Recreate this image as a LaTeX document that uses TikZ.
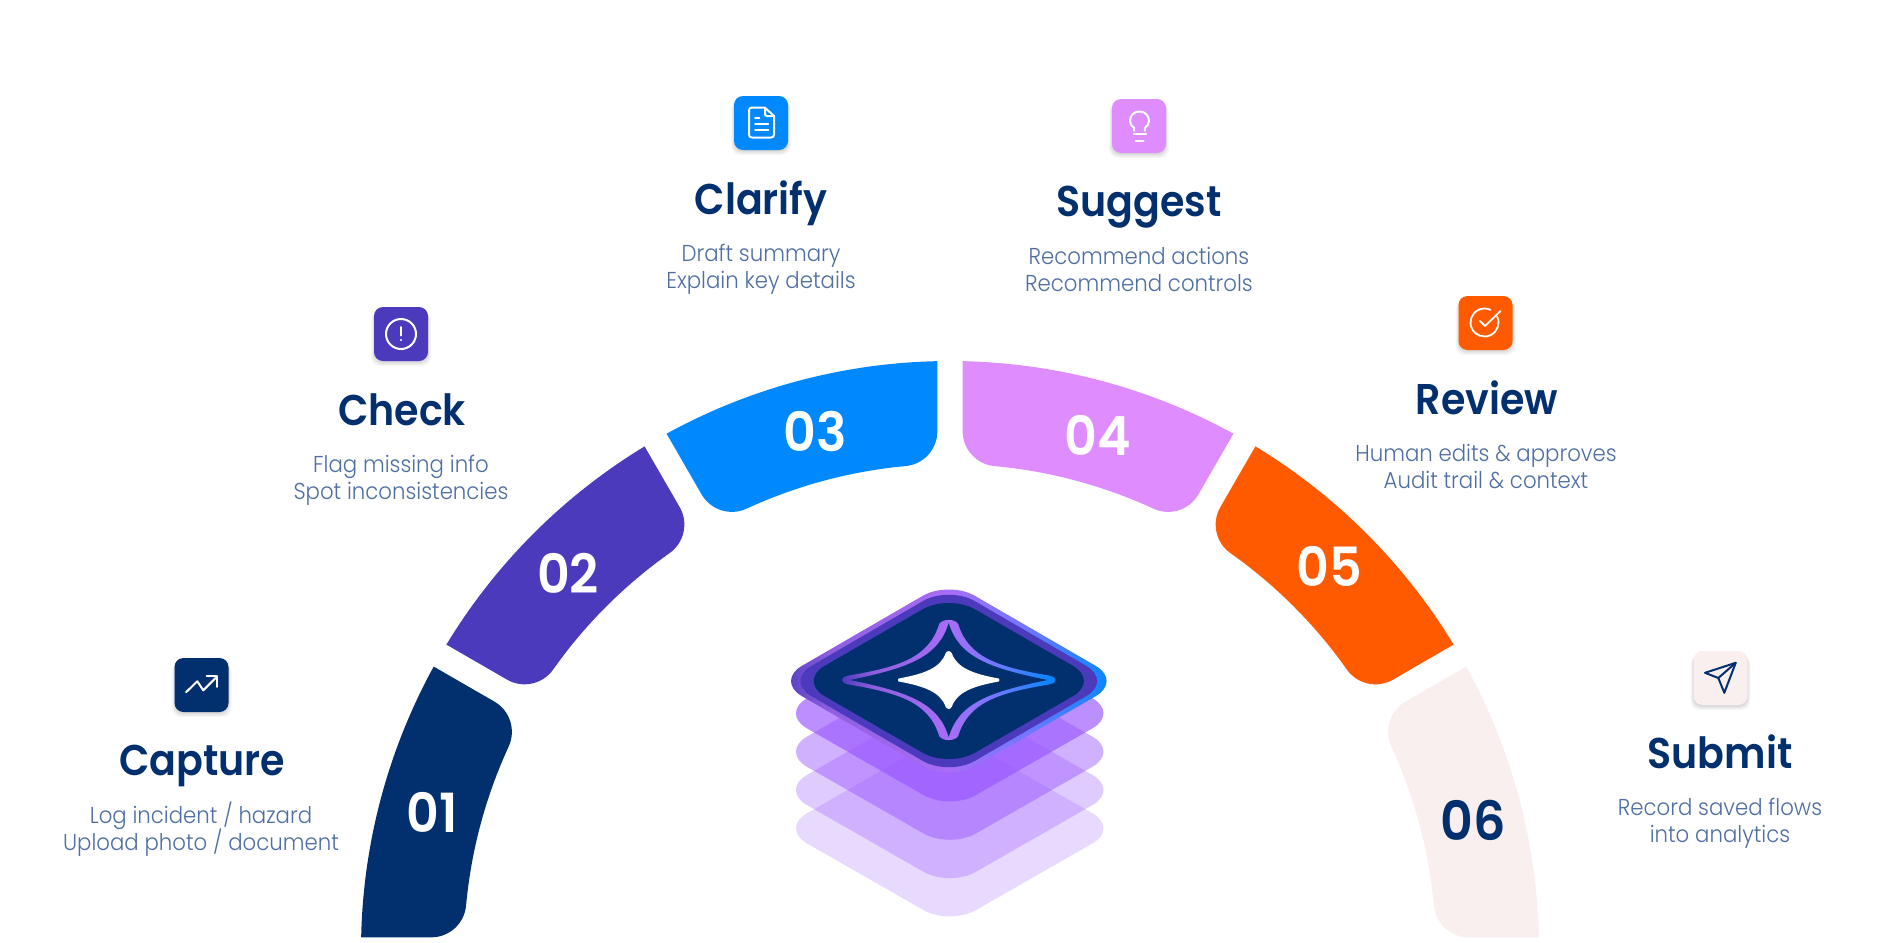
\documentclass[tikz,border=0pt]{standalone}
\usepackage{fontspec}
\setmainfont{Poppins}
\newfontfamily\titlef{Poppins SemiBold}[FakeStretch=0.92]
\newfontfamily\numf{Poppins SemiBold}[FakeStretch=0.94]
\newfontfamily\bodyf{Poppins Light}[FakeStretch=0.925]
\definecolor{navy}{HTML}{02306F}
\definecolor{indigo}{HTML}{4B3ABB}
\definecolor{azure}{HTML}{0088FF}
\definecolor{orchid}{HTML}{DF8CFF}
\definecolor{blaze}{HTML}{FF5A00}
\definecolor{blush}{HTML}{FAEFEF}
\definecolor{bodyblue}{HTML}{4F6EA3}
\definecolor{layerv}{HTML}{9955FF}
\definecolor{ringa}{HTML}{8F5FE0}
\definecolor{ringb}{HTML}{A96DF5}
\definecolor{ringc}{HTML}{7078FF}
\pgfdeclarehorizontalshading{ringshade}{100bp}{color(0bp)=(indigo);color(25bp)=(indigo);color(33bp)=(ringa);color(50bp)=(ringb);color(61bp)=(ringc);color(74bp)=(azure);color(100bp)=(azure)}
\tikzset{
  steptitle/.style={anchor=base,text=navy,font=\titlef\fontsize{43}{43}\selectfont},
  stepbody/.style={anchor=base,text=bodyblue,font=\bodyf\fontsize{23}{23}\selectfont},
  stepnum/.style={text=white,font=\numf\fontsize{54}{54}\selectfont},
  glyph/.style={draw=white,line width=2pt,line cap=round,line join=round},
}
\newcommand{\ringseg}[3]{%
  \pgfmathsetmacro{\sa}{#1+1.236}\pgfmathsetmacro{\ea}{#2-1.236}%
  \pgfmathsetmacro{\pa}{#2-1.40}\pgfmathsetmacro{\fa}{#2+90}\pgfmathsetmacro{\fb}{#2+180-5.25}%
  \pgfmathsetmacro{\ia}{#2-5.25}\pgfmathsetmacro{\ib}{#1+5.25}%
  \pgfmathsetmacro{\ga}{#1+5.25+180}\pgfmathsetmacro{\gb}{#1+270}%
  \fill[#3,shift={(950,-950)}] (\sa:589pt) arc[start angle=\sa,end angle=\ea,radius=589pt]
    -- (\pa:518.96pt) arc[start angle=\fa,end angle=\fb,radius=35pt]
    arc[start angle=\ia,end angle=\ib,radius=486pt]
    arc[start angle=\ga,end angle=\gb,radius=35pt] -- cycle;
}
\newcommand{\rhomb}[5]{% options, x, y, W, H
  \path[#1,shift={(#2,-#3)},rounded corners=30pt] (-#4,0) -- (0,-#5) -- (#4,0) -- (0,#5) -- cycle;
}
\newcommand{\iconcard}[3]{% x y colour
  \foreach \o/\g in {1/0,2/1,3/1,4/2,5/3}{
    \fill[black,opacity=.03,rounded corners=9pt] (#1-27-\g,-#2+27-\o) rectangle (#1+27+\g,-#2-27-\o);
  }
  \fill[#3,rounded corners=9pt] (#1-27,-#2+27) rectangle (#1+27,-#2-27);
}
\begin{document}
\begin{tikzpicture}[x=1pt,y=1pt]
\useasboundingbox (0,0) rectangle (1900,-942);
\fill[white] (0,0) rectangle (1900,-942);
% ring
\ringseg{150}{180}{navy}
\ringseg{120}{150}{indigo}
\ringseg{90}{120}{azure}
\ringseg{60}{90}{orchid}
\ringseg{30}{60}{blaze}
\ringseg{0}{30}{blush}
\node[stepnum] (n1) at (432,-812) {01};
\node[stepnum] (n2) at (568,-573) {02};
\node[stepnum] (n3) at (815,-431) {03};
\node[stepnum] (n4) at (1097.5,-435) {04};
\node[stepnum] (n5) at (1329.5,-566) {05};
\node[stepnum,text=navy] (n6) at (1473,-820) {06};
% stack
\rhomb{fill=layerv,fill opacity=.22}{949.7}{828.3}{169}{96.8}
\rhomb{fill=layerv,fill opacity=.30}{949.7}{790}{169}{96.8}
\rhomb{fill=layerv,fill opacity=.46}{949.7}{751.7}{169}{96.8}
\rhomb{fill=layerv,fill opacity=.66}{949.7}{713.3}{169}{96.8}
\rhomb{shading=ringshade}{948.8}{681}{173}{100.3}
\rhomb{fill=indigo}{948.8}{681}{163.5}{95}
\rhomb{fill=navy}{948.8}{681}{150.3}{86.8}
% star
\begin{scope}[shift={(948.7,-680)},y=-1pt]
\shade[shading=ringshade] (-9.5,-56) .. controls (-6,-61.5) and (6,-61.5) .. (9.5,-56)
  .. controls (20,-22) and (50,-13) .. (100,-4.5) .. controls (109,-3) and (109,3) .. (100,4.5)
  .. controls (50,13) and (20,22) .. (9.5,56) .. controls (6,61.5) and (-6,61.5) .. (-9.5,56)
  .. controls (-20,22) and (-50,13) .. (-100,4.5) .. controls (-109,3) and (-109,-3) .. (-100,-4.5)
  .. controls (-50,-13) and (-20,-22) .. (-9.5,-56) -- cycle;
\fill[navy] (0,-57) .. controls (10,-23) and (40,-12) .. (98.7,0)
  .. controls (40,12) and (10,23) .. (0,57)
  .. controls (-10,23) and (-40,12) .. (-98.7,0)
  .. controls (-40,-12) and (-10,-23) .. (0,-57) -- cycle;
\fill[white] (-3,-27) .. controls (-1.5,-29.5) and (1.5,-29.5) .. (3,-27)
  .. controls (8,-12) and (25,-6) .. (50,-1.5) .. controls (51,-.5) and (51,.5) .. (50,1.5)
  .. controls (25,6) and (8,12) .. (3,27) .. controls (1.5,29.5) and (-1.5,29.5) .. (-3,27)
  .. controls (-8,12) and (-25,6) .. (-50,1.5) .. controls (-51,.5) and (-51,-.5) .. (-50,-1.5)
  .. controls (-25,-6) and (-8,-12) .. (-3,-27) -- cycle;
\end{scope}
% icons
\iconcard{201.5}{685}{navy}
\iconcard{401}{334}{indigo}
\iconcard{761}{123}{azure}
\iconcard{1139}{126}{orchid}
\iconcard{1485.5}{323}{blaze}
\iconcard{1720.5}{678}{blush}
\begin{scope}[shift={(201.5,-685)},y=-1pt]
\draw[glyph] (-15.5,7.3) -- (-4.2,-3.7) -- (1.8,5.3) -- (15.5,-8.4);
\draw[glyph] (5.2,-8.7) -- (15.8,-8.7) -- (15.8,1.9);
\end{scope}
\begin{scope}[shift={(401,-334)},y=-1pt]
\draw[glyph] (0,0) circle[radius=15pt];
\draw[glyph] (0,-7) -- (0,1.5);
\fill[white] (0,6) circle[radius=1.2pt];
\end{scope}
\begin{scope}[shift={(761,-123)},y=-1pt]
\draw[glyph] (3.7,-15.5) -- (-9,-15.5) .. controls (-11,-15.5) and (-12,-14.5) .. (-12,-12.5) -- (-12,11.5) .. controls (-12,13.5) and (-11,14.5) .. (-9,14.5) -- (10,14.5) .. controls (12,14.5) and (13,13.5) .. (13,11.5) -- (13,-7) -- cycle;
\draw[glyph] (4,-15) -- (4,-9) .. controls (4,-7.5) and (5,-7) .. (6,-7) -- (13,-7);
\draw[glyph] (-6,-5) -- (-1.7,-5);
\draw[glyph] (-6,1) -- (7.3,1);
\draw[glyph] (-6,6.5) -- (7.3,6.5);
\end{scope}
\begin{scope}[shift={(1139,-126)},y=-1pt]
\draw[glyph] (-4.8,4.8) -- (-4.8,2) .. controls (-7.5,0) and (-9,-2) .. (-9,-5) .. controls (-9,-10.5) and (-5,-14.5) .. (.5,-14.5) .. controls (6,-14.5) and (10,-10.5) .. (10,-5) .. controls (10,-2) and (8.5,0) .. (5.8,2) -- (5.8,4.8);
\draw[glyph] (-5.5,8) -- (7,8);
\draw[glyph] (-3.5,14.8) -- (4.5,14.8);
\end{scope}
\begin{scope}[shift={(1485.5,-323)}]
\draw[glyph,line width=1.8pt] (-1,.5) ++(25:14pt) arc[start angle=25,end angle=-295,radius=14pt];
\draw[glyph,line width=1.8pt] (-5.5,2) -- (-.5,-3) -- (15,12);
\end{scope}
\begin{scope}[shift={(1720.5,-678)},y=-1pt]
\draw[glyph,draw=navy] (15.2,-15.2) -- (-15.5,-5.2) -- (-2.2,0) -- (3.8,14.8) -- cycle;
\draw[glyph,draw=navy] (-2.2,0) -- (15.2,-15.2);
\end{scope}
% labels
\node[steptitle] (t1) at (202,-775) {Capture};
\node[stepbody] (b1a) at (201,-823) {Log incident / hazard};
\node[stepbody] (b1b) at (201,-850) {Upload photo / document};
\node[steptitle] (t2) at (402,-425) {Check};
\node[stepbody] (b2a) at (401,-472) {Flag missing info};
\node[stepbody] (b2b) at (401,-499) {Spot inconsistencies};
\node[steptitle] (t3) at (761,-214) {Clarify};
\node[stepbody] (b3a) at (761,-261) {Draft summary};
\node[stepbody] (b3b) at (761,-288) {Explain key details};
\node[steptitle] (t4) at (1139,-216) {Suggest};
\node[stepbody] (b4a) at (1139,-264) {Recommend actions};
\node[stepbody] (b4b) at (1139,-291) {Recommend controls};
\node[steptitle] (t5) at (1487,-414) {Review};
\node[stepbody] (b5a) at (1486,-461) {Human edits \& approves};
\node[stepbody] (b5b) at (1486,-488) {Audit trail \& context};
\node[steptitle] (t6) at (1720,-768) {Submit};
\node[stepbody] (b6a) at (1720,-815) {Record saved flows};
\node[stepbody] (b6b) at (1720,-842) {into analytics};
\end{tikzpicture}
\end{document}
